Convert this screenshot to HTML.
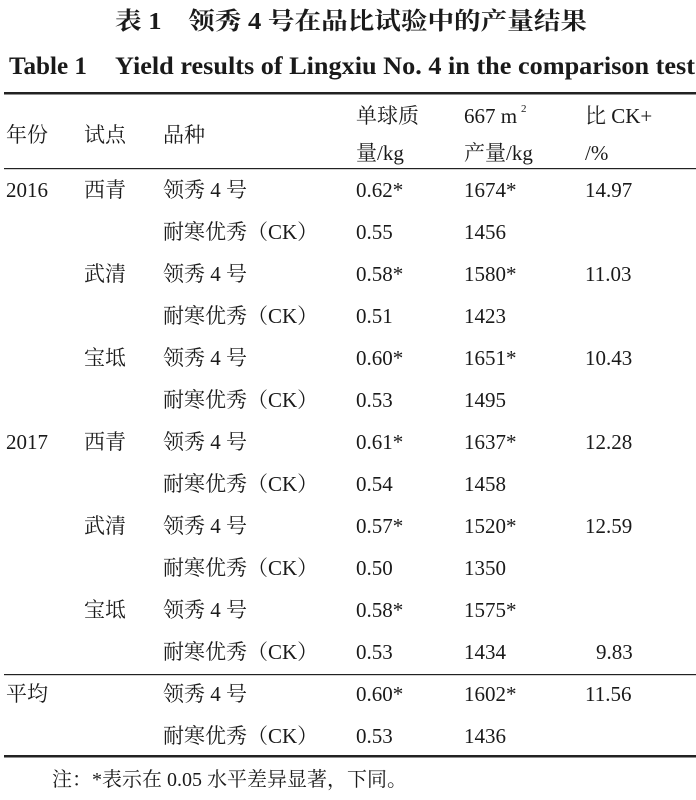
<!DOCTYPE html>
<html><head><meta charset="utf-8"><style>
html,body{margin:0;padding:0;background:#fff;}
svg{display:block}
text{font-family:"Liberation Serif","Noto Serif CJK SC","Noto Sans CJK SC",serif;fill:#1a1a1a;font-size:21px}
.b{font-weight:bold}
</style></head><body>
<svg width="696" height="800" viewBox="0 0 696 800">
<text x="115" y="29" class="b" style="font-size:24px" textLength="472" lengthAdjust="spacingAndGlyphs">表 1　领秀 4 号在品比试验中的产量结果</text>
<text x="9" y="74" class="b" style="font-size:25px" textLength="78" lengthAdjust="spacingAndGlyphs">Table 1</text>
<text x="115" y="74" class="b" style="font-size:25px" textLength="580" lengthAdjust="spacingAndGlyphs">Yield results of Lingxiu No. 4 in the comparison test</text>
<rect x="4" y="92" width="692" height="2.5" fill="#222"/>
<rect x="4" y="168" width="692" height="1.2" fill="#222"/>
<rect x="4" y="674" width="692" height="1.2" fill="#222"/>
<rect x="4" y="755" width="692" height="2.5" fill="#222"/>
<g>
<text x="6" y="142">年份</text><text x="84" y="142">试点</text><text x="163" y="142">品种</text>
<text x="356" y="123">单球质</text><text x="356" y="160">量/kg</text>
<text x="464" y="123">667 m</text><text x="521" y="112" style="font-size:11px">2</text><text x="464" y="160">产量/kg</text>
<text x="585" y="123">比 CK+</text><text x="585" y="160">/%</text>
</g>
<g>
<text x="6" y="197">2016</text><text x="84" y="197">西青</text><text x="163" y="197">领秀 4 号</text><text x="356" y="197">0.62*</text><text x="464" y="197">1674*</text><text x="585" y="197">14.97</text>
<text x="163" y="239">耐寒优秀（CK）</text><text x="356" y="239">0.55</text><text x="464" y="239">1456</text>
<text x="84" y="281">武清</text><text x="163" y="281">领秀 4 号</text><text x="356" y="281">0.58*</text><text x="464" y="281">1580*</text><text x="585" y="281">11.03</text>
<text x="163" y="323">耐寒优秀（CK）</text><text x="356" y="323">0.51</text><text x="464" y="323">1423</text>
<text x="84" y="365">宝坻</text><text x="163" y="365">领秀 4 号</text><text x="356" y="365">0.60*</text><text x="464" y="365">1651*</text><text x="585" y="365">10.43</text>
<text x="163" y="407">耐寒优秀（CK）</text><text x="356" y="407">0.53</text><text x="464" y="407">1495</text>
<text x="6" y="449">2017</text><text x="84" y="449">西青</text><text x="163" y="449">领秀 4 号</text><text x="356" y="449">0.61*</text><text x="464" y="449">1637*</text><text x="585" y="449">12.28</text>
<text x="163" y="491">耐寒优秀（CK）</text><text x="356" y="491">0.54</text><text x="464" y="491">1458</text>
<text x="84" y="533">武清</text><text x="163" y="533">领秀 4 号</text><text x="356" y="533">0.57*</text><text x="464" y="533">1520*</text><text x="585" y="533">12.59</text>
<text x="163" y="575">耐寒优秀（CK）</text><text x="356" y="575">0.50</text><text x="464" y="575">1350</text>
<text x="84" y="617">宝坻</text><text x="163" y="617">领秀 4 号</text><text x="356" y="617">0.58*</text><text x="464" y="617">1575*</text>
<text x="163" y="659">耐寒优秀（CK）</text><text x="356" y="659">0.53</text><text x="464" y="659">1434</text><text x="596" y="659">9.83</text>
<text x="6" y="701">平均</text><text x="163" y="701">领秀 4 号</text><text x="356" y="701">0.60*</text><text x="464" y="701">1602*</text><text x="585" y="701">11.56</text>
<text x="163" y="743">耐寒优秀（CK）</text><text x="356" y="743">0.53</text><text x="464" y="743">1436</text>
</g>
<text x="52" y="786" style="font-size:20px">注：*表示在 0.05 水平差异显著，下同。</text>
</svg>
</body></html>
